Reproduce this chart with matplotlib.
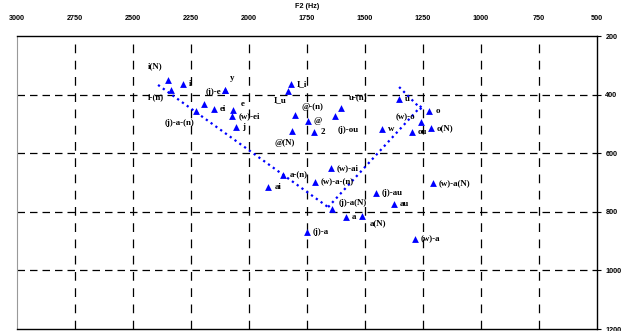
import matplotlib
matplotlib.use("Agg")
import matplotlib.pyplot as plt

labels = ["i(N)", "i", "i-(n)", "(j)-e", "y", "", "ei", "e", "(w)-ei", "j",
          "(j)-a-(n)", "I_i", "I_u", "@-(n)", "@", "@(N)", "2", "u-(n)",
          "(j)-ou", "u", "o", "(w)-o", "w", "ou", "o(N)", "a-(n)", "ai",
          "(w)-a-(n)", "(w)-ai", "(j)-a(N)", "a", "a(N)", "(j)-au", "au",
          "(j)-a", "(w)-a", "(w)-a(N)"]
f2 = [2348, 2286, 2337, 2103, 2103, 2193, 2150, 2068, 2072, 2056,
      2228, 1819, 1831, 1802, 1747, 1816, 1719, 1603,
      1629, 1352, 1223, 1260, 1428, 1299, 1216, 1852, 1917,
      1716, 1648, 1641, 1582, 1514, 1453, 1374,
      1751, 1285, 1208]
f1 = [350, 365, 384, 384, 384, 433, 450, 453, 473, 510,
      455, 365, 388, 470, 489, 523, 527, 447,
      473, 416, 456, 492, 518, 529, 515, 674, 714,
      699, 652, 790, 817, 814, 735, 774,
      868, 894, 703]

# dotted trend lines (front vowels, back vowels, rounded)
front_f2 = [2392, 1659]
front_f1 = [367, 784]
back_f2 = [1659, 1246]
back_f1 = [784, 429]
round_f2 = [1353, 1246]
round_f1 = [374, 459]

xticks = [3000, 2750, 2500, 2250, 2000, 1750, 1500, 1250, 1000, 750, 500]
yticks = [200, 400, 600, 800, 1000, 1200]

# label placement: (dx, dy) in pixels, alignment
right = (6, 0, "left")
offsets = {
    "i(N)": (-13, 14, "center"), "i-(n)": (-15, -7, "center"),
    "(j)-e": (-4, -2, "right"), "y": (7, 12, "center"), "e": (9, 6, "center"),
    "(j)-a-(n)": (-17, -12, "center"), "I_u": (-8, -9, "center"),
    "@-(n)": (7, 8, "left"), "@(N)": (-7, -12, "center"),
    "u-(n)": (8, 10, "left"), "(j)-ou": (3, -14, "left"),
    "(w)-o": (-5, 4, "right"), "(j)-a(N)": (6, 6, "left"),
    "a(N)": (8, -7, "left"),
}

fig = plt.figure(figsize=(6.32, 3.31), dpi=100)
ax = fig.add_axes([17 / 632, 1 - 329 / 331, 580 / 632, 293 / 331])

ax.plot(front_f2, front_f1, ":", color="#0000ff", lw=1.6, zorder=2)
ax.plot(back_f2, back_f1, ":", color="#0000ff", lw=1.6, zorder=2)
ax.plot(round_f2, round_f1, ":", color="#0000ff", lw=1.6, zorder=2)
ax.scatter(f2, f1, marker="^", s=24, color="#0000ff", linewidths=0, zorder=3)

for lab, x, y in zip(labels, f2, f1):
    if not lab:
        continue
    dx, dy, ha = offsets.get(lab, right)
    ax.annotate(lab, (x, y), xytext=(dx, dy), textcoords="offset pixels",
                ha=ha, va="center", fontsize=6.4, fontweight="bold",
                family="Liberation Serif", color="black")

ax.set_xlim(3000, 500)
ax.set_ylim(1200, 200)
ax.set_xticks(xticks)
ax.set_yticks(yticks)
ax.xaxis.tick_top()
ax.xaxis.set_label_position("top")
ax.yaxis.tick_right()
ax.set_xlabel("F2 (Hz)", fontsize=5.2, fontweight="bold", family="Liberation Sans", labelpad=5)
ax.tick_params(axis="x", length=0, pad=10, labelsize=5.2)
ax.tick_params(axis="y", length=3, direction="out", pad=3, labelsize=5.2)
for t in ax.get_xticklabels() + ax.get_yticklabels():
    t.set_fontweight("bold")
    t.set_family("Liberation Sans")

for x in xticks[1:-1]:
    ax.axvline(x, color="black", lw=0.9, ls=(0, (7, 6)), zorder=1)
for y in yticks[1:-1]:
    ax.axhline(y, color="black", lw=0.9, ls=(0, (6, 4)), zorder=1)

ax.spines["left"].set_color("#999999")
ax.spines["left"].set_linewidth(0.8)
for s in ["top", "right", "bottom"]:
    ax.spines[s].set_color("black")
    ax.spines[s].set_linewidth(1.0)

fig.savefig("out.png", dpi=100)
